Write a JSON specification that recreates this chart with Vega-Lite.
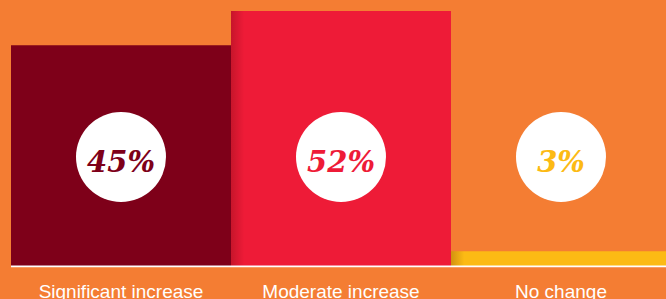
{
  "$schema": "https://vega.github.io/schema/vega-lite/v6.json",
  "width": 666,
  "height": 266,
  "autosize": {"type": "none"},
  "padding": {"left": 0, "top": 0, "right": 0, "bottom": 33},
  "background": "#F47D33",
  "config": {"view": {"stroke": null}},
  "data": {
    "values": [
      {"cat": "Significant increase", "value": 45, "label": "45%"},
      {"cat": "Moderate increase", "value": 52, "label": "52%"},
      {"cat": "No change", "value": 3, "label": "3%"}
    ]
  },
  "encoding": {
    "x": {
      "field": "cat",
      "type": "nominal",
      "sort": null,
      "scale": {"type": "band", "range": [11, 671], "paddingInner": 0, "paddingOuter": 0},
      "axis": {
        "title": null,
        "domain": false,
        "ticks": false,
        "tickSize": 0,
        "labelAngle": 0,
        "labelPadding": 31,
        "labelBaseline": "alphabetic",
        "labelFont": "Liberation Sans",
        "labelFontSize": 19,
        "labelColor": "#FFFFFF",
        "labelFontWeight": "normal"
      }
    }
  },
  "layer": [
    {
      "mark": {"type": "bar"},
      "encoding": {
        "y": {"field": "value", "type": "quantitative", "scale": {"domain": [0, 54.24], "nice": false, "zero": true}, "axis": null},
        "color": {
          "field": "cat",
          "type": "nominal",
          "scale": {"domain": ["Significant increase", "Moderate increase", "No change"], "range": ["#7E0019", "#EE1B37", "#FCBA14"]},
          "legend": null
        }
      }
    },
    {
      "transform": [{"filter": "datum.cat !== 'Significant increase'"}],
      "mark": {
        "type": "bar",
        "fill": {
          "gradient": "linear",
          "x1": 0, "y1": 0, "x2": 1, "y2": 0,
          "stops": [
            {"offset": 0, "color": "rgba(60,0,0,0.22)"},
            {"offset": 0.06, "color": "rgba(60,0,0,0)"}
          ]
        }
      },
      "encoding": {
        "y": {"field": "value", "type": "quantitative"}
      }
    },
    {
      "mark": {"type": "rect", "color": "#FFFFFF"},
      "encoding": {
        "y": {"datum": 0.08},
        "y2": {"datum": -0.25}
      }
    },
    {
      "mark": {"type": "point", "shape": "circle", "filled": true, "color": "#FFFFFF", "opacity": 1, "size": 8100},
      "encoding": {
        "y": {"datum": 22.23}
      }
    },
    {
      "mark": {
        "type": "text",
        "font": "DejaVu Serif",
        "fontSize": 29,
        "fontWeight": "bold",
        "fontStyle": "italic",
        "baseline": "alphabetic",
        "align": "center"
      },
      "encoding": {
        "y": {"datum": 19.07},
        "text": {"field": "label"},
        "color": {"field": "cat", "type": "nominal", "legend": null}
      }
    }
  ]
}
